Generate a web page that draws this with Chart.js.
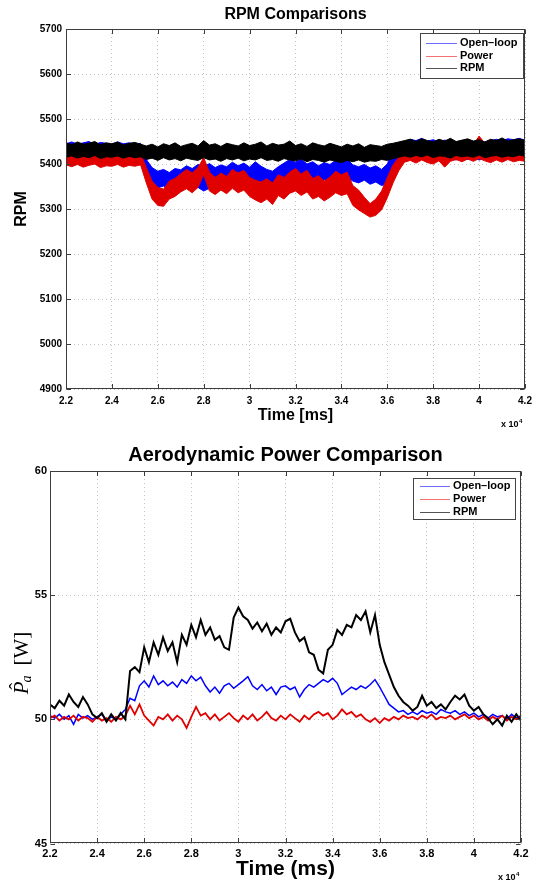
<!DOCTYPE html>
<html><head><meta charset="utf-8">
<script src="https://cdn.jsdelivr.net/npm/chart.js@4.4.1/dist/chart.umd.min.js"></script>
<style>
html,body{margin:0;padding:0;background:#fff;}
canvas{display:block;}
</style></head>
<body>
<canvas id="c1" width="543" height="440" style="width:543px;height:440px"></canvas>
<canvas id="c2" width="543" height="444" style="width:543px;height:444px"></canvas>
<script>
// ---------- shared ----------
const seriesNames = ['Open\u2013loop', 'Power', 'RPM'];
const seriesColors = ['#0000ff', '#e00000', '#000000'];
const legendColors = ['rgba(60,60,255,0.75)', 'rgba(240,80,80,0.8)', 'rgba(40,40,40,0.8)'];
const xTickLabels = ['2.2','2.4','2.6','2.8','3','3.2','3.4','3.6','3.8','4','4.2'];
const topYTicks = [4900,5000,5100,5200,5300,5400,5500,5600,5700];
const botYTicks = [45,50,55,60];

// ---------- top chart: RPM bands (upper / lower edge of each noisy trace), sampled every 250 ms from 22000 ms ----------
const topT0 = 22000, topDt = 250;
const blueUpperTop = [5445,5449,5444,5447,5450,5443,5448,5446,5444,5449,5445,5447,5443,5446,
 5410,5392,5384,5388,5381,5390,5387,5396,5390,5399,5394,5401,5392,5398,5394,5404,5396,5402,5393,5405,
 5395,5388,5384,5394,5402,5410,5404,5411,5400,5405,5396,5403,5399,5408,5402,5411,5398,5394,5399,5391,
 5396,5388,5400,5428,5442,
 5450,5455,5452,5457,5451,5454,5449,5453,5451,5448,5452,5447,5450,5446,5449,5451,5455,5452,5456,5454,5457,5453];
const blueLowerTop = [5407,5403,5408,5404,5406,5402,5407,5405,5403,5408,5404,5406,5402,5405,
 5376,5355,5347,5351,5344,5350,5345,5352,5342,5348,5340,5346,5339,5349,5345,5358,5352,5362,5355,5364,
 5358,5352,5348,5356,5362,5368,5371,5366,5372,5362,5358,5365,5360,5368,5364,5370,5362,5358,5364,5355,
 5360,5352,5356,5388,5405,
 5412,5416,5413,5417,5411,5414,5410,5415,5412,5409,5414,5410,5413,5409,5412,5415,5418,5414,5416,5413,5417,5415];
const redUpperTop = [5425,5421,5426,5422,5424,5420,5426,5423,5421,5425,5422,5424,5420,5423,
 5392,5362,5348,5344,5362,5368,5378,5388,5380,5392,5414,5382,5370,5380,5372,5388,5380,5386,5370,5364,
 5360,5367,5358,5376,5370,5382,5390,5378,5386,5368,5374,5362,5371,5384,5376,5382,5352,5342,5326,5312,
 5322,5340,5370,5398,5415,
 5430,5434,5429,5436,5431,5428,5434,5430,5437,5445,5440,5447,5443,5462,5446,5440,5436,5432,5437,5431,5435,5433];
const redLowerTop = [5398,5394,5399,5393,5397,5400,5392,5396,5395,5399,5393,5397,5395,5398,
 5358,5322,5308,5306,5322,5328,5338,5345,5336,5348,5376,5340,5332,5342,5334,5346,5336,5342,5328,5320,
 5314,5322,5310,5330,5322,5335,5340,5330,5338,5322,5328,5318,5326,5336,5330,5334,5308,5298,5290,5282,
 5286,5298,5325,5358,5385,
 5404,5408,5402,5409,5403,5400,5407,5393,5406,5410,5405,5411,5406,5412,5407,5403,5409,5404,5410,5405,5408,5406];
const blackUpperTop = [5447,5443,5449,5444,5446,5450,5443,5447,5445,5449,5442,5446,5448,5444,
 5440,5444,5438,5445,5441,5447,5439,5443,5446,5440,5452,5442,5445,5439,5446,5443,5440,5447,5441,5444,
 5449,5440,5446,5442,5444,5451,5441,5445,5439,5447,5443,5440,5446,5442,5438,5444,5440,5445,5437,5443,
 5441,5439,5444,5446,5449,
 5452,5455,5450,5456,5452,5449,5455,5451,5457,5450,5453,5456,5451,5454,5449,5455,5452,5458,5451,5454,5456,5452];
const blackLowerTop = [5415,5418,5413,5417,5414,5419,5412,5416,5415,5418,5413,5417,5414,5416,
 5410,5413,5408,5414,5409,5412,5407,5413,5410,5408,5414,5409,5411,5406,5412,5409,5413,5407,5411,5409,
 5414,5408,5410,5406,5412,5409,5407,5411,5405,5410,5408,5404,5409,5406,5403,5408,5405,5409,5404,5407,
 5406,5410,5408,5412,5415,
 5418,5415,5419,5416,5420,5414,5418,5417,5413,5419,5416,5418,5415,5420,5414,5417,5419,5415,5418,5416,5420,5417];

// ---------- bottom chart: aerodynamic power, sampled every 200 ms from 22000 ms ----------
const botT0 = 22000, botDt = 200;
const blueBottom = [50.15,50.05,50.2,50.0,50.15,49.8,50.2,50.05,50.15,50.0,
 50.1,50.2,49.95,50.1,50.0,50.2,50.4,50.85,50.75,51.35,
 51.55,51.3,51.75,51.4,51.55,51.35,51.5,51.3,51.6,51.45,
 51.75,51.55,51.7,51.35,51.1,51.3,51.05,51.35,51.45,51.25,
 51.4,51.55,51.72,51.35,51.2,51.4,51.15,51.3,51.0,51.3,
 51.35,51.2,51.3,50.9,51.2,51.4,51.3,51.45,51.6,51.5,
 51.65,51.45,51.0,51.15,51.3,51.2,51.35,51.25,51.4,51.6,
 51.3,50.95,50.6,50.45,50.3,50.35,50.2,50.3,50.2,50.35,
 50.25,50.3,50.2,50.4,50.3,50.25,50.35,50.2,50.3,50.15,
 50.25,50.1,50.2,50.05,50.2,50.1,50.15,50.0,50.2,50.05,
 50.15];
const redBottom = [50.05,50.15,49.95,50.1,50.0,50.15,49.95,50.1,50.05,49.9,
 50.1,49.95,50.05,49.9,50.1,50.0,50.15,50.55,50.2,50.6,
 50.15,49.95,49.75,50.1,50.0,50.2,49.95,50.15,50.0,49.65,
 50.1,50.5,50.15,50.25,50.0,50.2,49.95,50.1,50.25,50.05,
 49.9,50.15,50.0,50.2,49.95,50.1,50.3,50.05,49.95,50.15,
 50.0,50.2,50.05,49.9,50.15,50.0,50.2,50.3,50.15,50.25,
 50.0,50.15,50.4,50.2,50.3,50.1,50.2,50.0,49.9,50.05,
 49.85,50.05,49.95,50.1,50.0,50.15,50.05,50.1,50.0,50.15,
 50.05,50.2,50.0,50.1,50.05,50.15,50.0,50.1,50.2,50.05,
 50.15,50.0,50.1,49.95,50.1,50.0,50.15,49.95,50.1,50.0,
 50.1];
const blackBottom = [50.6,50.45,50.75,50.55,51.0,50.7,50.5,50.9,50.6,50.2,
 50.05,50.25,49.9,50.2,49.95,50.25,50.0,51.95,52.1,51.9,
 52.9,52.3,53.1,52.6,53.3,52.75,53.1,52.3,53.4,53.0,
 53.8,53.3,54.0,53.4,53.7,53.2,53.35,52.9,52.8,54.1,
 54.5,54.15,54.0,53.65,53.9,53.55,53.85,53.4,53.7,53.5,
 53.95,54.05,53.5,53.15,53.3,52.7,52.6,52.0,51.85,52.8,
 53.0,53.6,53.4,53.8,53.7,54.2,54.0,54.35,53.5,54.2,
 53.0,52.3,51.8,51.3,50.95,50.7,50.55,50.35,50.5,50.95,
 50.55,50.7,50.45,50.6,50.4,50.7,50.95,50.8,51.0,50.55,
 50.35,50.5,50.2,50.05,49.8,50.0,49.75,50.15,49.9,50.2,
 49.95];

// ---------- helpers ----------
const FONT = '"Liberation Sans", Arial, Helvetica, sans-serif';
const SERIF = '"Liberation Serif", "DejaVu Serif", serif';
Chart.defaults.font.family = FONT;
function pts(vals, t0, dt) { return vals.map((v, i) => ({ x: t0 + i * dt, y: v })); }

function decor(o) {
  return {
    id: 'decor',
    afterDraw(chart) {
      const ctx = chart.ctx, a = chart.chartArea;
      const xs = chart.scales.x, ys = chart.scales.y;
      const L = Math.floor(a.left) + 0.5, R = Math.floor(a.right) - 0.5;
      const T = Math.floor(a.top) + 0.5, B = Math.floor(a.bottom) - 0.5;
      ctx.save();
      // box + inward ticks
      ctx.strokeStyle = '#3c3c3c'; ctx.lineWidth = 1;
      ctx.beginPath();
      const tl = 4.5;
      xs.ticks.forEach(t => {
        const p = Math.round(xs.getPixelForValue(t.value)) + 0.5;
        ctx.moveTo(p, B); ctx.lineTo(p, B - tl);
        ctx.moveTo(p, T); ctx.lineTo(p, T + tl);
      });
      ys.ticks.forEach(t => {
        const p = Math.round(ys.getPixelForValue(t.value)) + 0.5;
        ctx.moveTo(L, p); ctx.lineTo(L + tl, p);
        ctx.moveTo(R, p); ctx.lineTo(R - tl, p);
      });
      ctx.stroke();
      ctx.strokeRect(L, T, R - L, B - T);

      // legend
      const lg = o.legend;
      ctx.fillStyle = '#fff';
      ctx.fillRect(lg.x, lg.y, lg.w, lg.h);
      ctx.strokeStyle = '#444';
      ctx.strokeRect(lg.x + 0.5, lg.y + 0.5, lg.w, lg.h);
      ctx.font = 'bold ' + lg.fs + 'px ' + FONT;
      ctx.textBaseline = 'middle'; ctx.textAlign = 'left';
      seriesNames.forEach((n, i) => {
        const yy = lg.rows[i];
        ctx.strokeStyle = legendColors[i]; ctx.lineWidth = 1;
        ctx.beginPath(); ctx.moveTo(lg.l1, Math.round(yy) + 0.5); ctx.lineTo(lg.l2, Math.round(yy) + 0.5); ctx.stroke();
        ctx.fillStyle = '#000';
        ctx.fillText(n, lg.tx, yy);
      });

      // title
      const cx = (a.left + a.right) / 2;
      ctx.fillStyle = '#000';
      ctx.textAlign = 'center'; ctx.textBaseline = 'middle';
      ctx.font = 'bold ' + o.titleSize + 'px ' + FONT;
      ctx.fillText(o.title, cx, o.titleY);
      // x label
      ctx.font = 'bold ' + o.xlabSize + 'px ' + FONT;
      ctx.fillText(o.xlab, cx, o.xlabY);
      // multiplier
      ctx.textAlign = 'left'; ctx.textBaseline = 'alphabetic';
      ctx.font = 'bold ' + o.multSize + 'px ' + FONT;
      ctx.fillText('x 10', o.multX, o.multY);
      const w = ctx.measureText('x 10').width;
      ctx.font = 'bold ' + Math.round(o.multSize * 0.7) + 'px ' + FONT;
      ctx.fillText('4', o.multX + w + 0.5, o.multY - o.multSize * 0.5);
      // y label
      o.ylab(ctx, a);
      ctx.restore();
    }
  };
}

function baseOptions(o) {
  return {
    responsive: false,
    animation: false,
    events: [],
    layout: { padding: o.padding },
    plugins: { legend: { display: false }, tooltip: { enabled: false }, title: { display: false } },
    elements: { point: { radius: 0 }, line: { tension: 0 } },
    scales: {
      x: {
        type: 'linear', min: 22000, max: 42000,
        afterFit: s => { s.height = o.xh; },
        ticks: { stepSize: 2000, autoSkip: false, maxRotation: 0, padding: o.xpad, color: '#000',
          font: { size: o.tickSize, weight: 'bold' },
          callback: (v, i) => xTickLabels[i] },
        grid: { color: '#c2c2c2', lineWidth: 1, drawTicks: false },
        border: { display: false, dash: [1, 3] }
      },
      y: {
        min: o.ymin, max: o.ymax,
        afterFit: s => { s.width = o.yw; },
        ticks: { stepSize: o.ystep, padding: o.ypad, color: '#000',
          font: { size: o.tickSize, weight: 'bold' },
          callback: (v, i) => String(o.yticks[i]) },
        grid: { color: '#c2c2c2', lineWidth: 1, drawTicks: false },
        border: { display: false, dash: [1, 3] }
      }
    }
  };
}

// ---------- top chart ----------
const uppers = [blueUpperTop, redUpperTop, blackUpperTop];
const lowers = [blueLowerTop, redLowerTop, blackLowerTop];
const topDatasets = [];
[0, 1, 2].forEach(s => {
  const ord = 3 - s;
  topDatasets.push({ label: seriesNames[s], data: pts(uppers[s], topT0, topDt), borderColor: seriesColors[s],
    borderWidth: 1, fill: false, order: ord });
  topDatasets.push({ label: seriesNames[s] + ' lo', data: pts(lowers[s], topT0, topDt), borderColor: seriesColors[s],
    backgroundColor: seriesColors[s], borderWidth: 1, fill: 2 * s, order: ord });
});

const topOpts = {
  padding: { left: 0, right: 18, top: 29, bottom: 0 }, xh: 51, yw: 66, xpad: 6, ypad: 4,
  tickSize: 10, ymin: 4900, ymax: 5700, ystep: 100, yticks: topYTicks
};
new Chart(document.getElementById('c1'), {
  type: 'line',
  data: { datasets: topDatasets },
  options: baseOptions(topOpts),
  plugins: [decor({
    title: 'RPM Comparisons', titleSize: 16, titleY: 14.5,
    xlab: 'Time [ms]', xlabSize: 16, xlabY: 416,
    multSize: 9, multX: 501, multY: 427,
    legend: { x: 420, y: 33, w: 103, h: 45, fs: 11, rows: [43, 55.5, 68], l1: 426, l2: 457, tx: 460 },
    ylab: (ctx, a) => {
      ctx.save();
      ctx.translate(22, (a.top + a.bottom) / 2);
      ctx.rotate(-Math.PI / 2);
      ctx.textAlign = 'center'; ctx.textBaseline = 'middle';
      ctx.font = 'bold 16px ' + FONT;
      ctx.fillText('RPM', 0, 0);
      ctx.restore();
    }
  })]
});

// ---------- bottom chart ----------
const botSeries = [blueBottom, redBottom, blackBottom];
const botWidths = [1.5, 1.8, 2];
const botDatasets = [0, 1, 2].map(s => ({
  label: seriesNames[s], data: pts(botSeries[s], botT0, botDt), borderColor: seriesColors[s],
  borderWidth: botWidths[s], fill: false, order: 3 - s
}));
const botOpts = {
  padding: { left: 0, right: 22, top: 31, bottom: 0 }, xh: 40.5, yw: 50, xpad: 4, ypad: 3,
  tickSize: 11, ymin: 45, ymax: 60, ystep: 5, yticks: botYTicks
};
new Chart(document.getElementById('c2'), {
  type: 'line',
  data: { datasets: botDatasets },
  options: baseOptions(botOpts),
  plugins: [decor({
    title: 'Aerodynamic Power Comparison', titleSize: 20, titleY: 15.5,
    xlab: 'Time (ms)', xlabSize: 21, xlabY: 429,
    multSize: 9, multX: 498, multY: 440,
    legend: { x: 413, y: 38, w: 102, h: 41, fs: 11, rows: [46, 59, 72], l1: 420, l2: 450, tx: 453 },
    ylab: (ctx, a) => {
      ctx.save();
      ctx.translate(21, 223);
      ctx.rotate(-Math.PI / 2);
      ctx.textBaseline = 'alphabetic'; ctx.textAlign = 'left';
      const big = 21, small = 14;
      ctx.font = 'italic ' + big + 'px ' + SERIF;
      const wP = ctx.measureText('P').width;
      ctx.font = 'italic ' + small + 'px ' + SERIF;
      const wa = ctx.measureText('a').width;
      ctx.font = big + 'px ' + SERIF;
      const wW = ctx.measureText('[W]').width;
      const gap = 9;
      const total = wP + wa + gap + wW;
      let x = -total / 2;
      const base = 7;
      ctx.fillStyle = '#000';
      ctx.font = 'italic ' + big + 'px ' + SERIF;
      ctx.fillText('P', x, base);
      ctx.font = big + 'px ' + SERIF;
      ctx.textAlign = 'center';
      ctx.fillText('\u02C6', x + wP * 0.62, base - 4);
      ctx.textAlign = 'left';
      x += wP;
      ctx.font = 'italic ' + small + 'px ' + SERIF;
      ctx.fillText('a', x - 1, base + 3);
      x += wa + gap;
      ctx.font = big + 'px ' + SERIF;
      ctx.fillText('[W]', x, base);
      ctx.restore();
    }
  })]
});
</script>
</body></html>
